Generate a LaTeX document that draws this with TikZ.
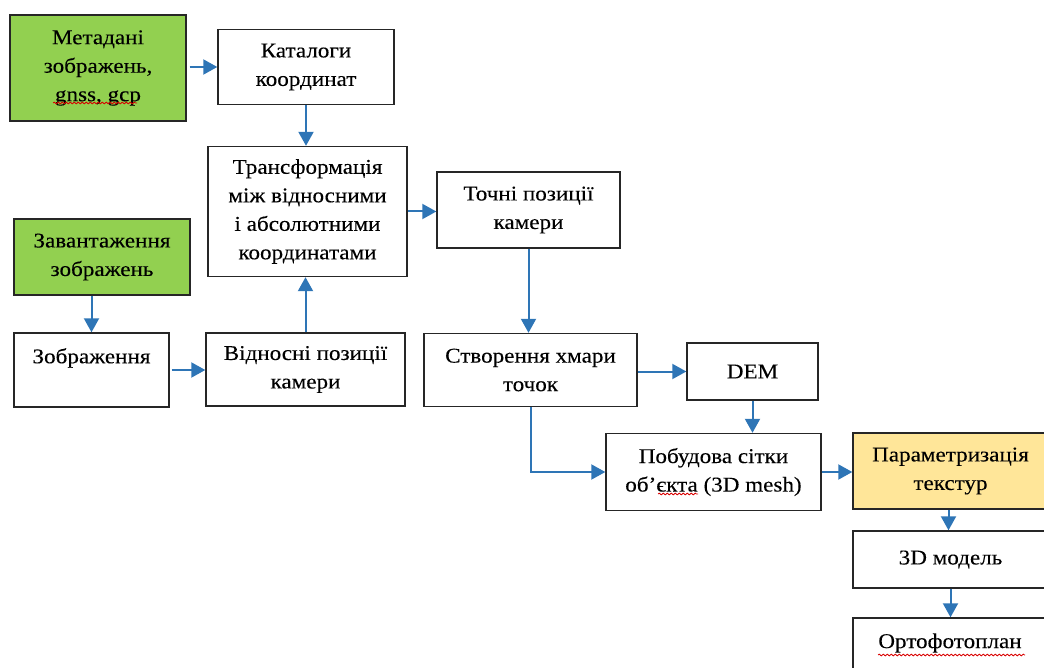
\documentclass[tikz,border=0pt]{standalone}
\usepackage{fontspec}
\setmainfont{Liberation Serif}[FakeStretch=1.1,FakeBold=0.15]
\usetikzlibrary{arrows.meta,decorations.pathmorphing}
\definecolor{arrblue}{RGB}{46,117,182}
\definecolor{boxgreen}{RGB}{146,208,80}
\definecolor{boxyellow}{RGB}{255,230,153}
\begin{document}
\begin{tikzpicture}[x=1pt,y=-1pt,
  box/.style={draw=black!85,line width=1.4pt,rectangle,inner sep=0pt,align=center,
    font=\fontsize{21}{28.5}\selectfont,text=black},
  greenbox/.style={box,fill=boxgreen},
  yellowbox/.style={box,fill=boxyellow},
  plaintext/.style={inner sep=0pt,align=center,font=\fontsize{21}{28.5}\selectfont,text=black},
  arr/.style={draw=arrblue,line width=2pt,-{Triangle[length=14pt,width=15pt]}},
  squiggle/.style={draw=red!85!black,line width=0.8pt,decorate,
    decoration={snake,amplitude=0.9pt,segment length=4pt}}]
\useasboundingbox (0,0) rectangle (1044,668);
\clip (0,0) rectangle (1044,668);

\node[greenbox,minimum width=176pt,minimum height=106pt] (meta) at (98,68) {Метадані\\зображень,\\gnss, gcp};
\node[box,minimum width=176pt,minimum height=75pt] (cat) at (306,67) {Каталоги\\координат};
\node[box,minimum width=199pt,minimum height=130pt] (trans) at (307.5,211.5) {Трансформація\\між відносними\\і абсолютними\\координатами};
\node[greenbox,minimum width=176pt,minimum height=76pt] (load) at (102,257) {Завантаження\\зображень};
\node[box,minimum width=155pt,minimum height=74pt] (img) at (91.5,370) {Зображення\\\mbox{}};
\node[box,minimum width=199pt,minimum height=73pt] (rel) at (305.5,369.5) {Відносні позиції\\камери};
\node[box,minimum width=183pt,minimum height=76pt] (exact) at (528.5,210) {Точні позиції\\камери};
\node[box,minimum width=213pt,minimum height=73pt] (cloud) at (530.5,370) {Створення хмари\\точок};
\node[box,minimum width=131pt,minimum height=57pt] (dem) at (752.5,371.5) {DEM};
\node[box,minimum width=215pt,minimum height=77pt] (mesh) at (713.5,472) {Побудова сітки\\об’єкта (3D mesh)};
\node[yellowbox,minimum width=195pt,minimum height=76pt] (tex) at (950.5,471) {Параметризація\\текстур};
\node[box,minimum width=195pt,minimum height=57pt] (model) at (950.5,559.5) {3D модель};
\node[box,minimum width=195pt,minimum height=82pt] (ortho) at (950.5,659) {};
\node[plaintext] (orthot) at (950,643) {Ортофотоплан};

% spell-check underlines
\draw[squiggle] (53,103) -- (137,103);
\draw[squiggle] (658,494) -- (698,494);
\draw[squiggle] (878,655) -- (1025,655);

% connectors
\draw[arr,shorten <=3pt] (meta.east |- cat.west) -- (cat.west);
\draw[arr] (cat.south) -- (cat.south |- trans.north);
\draw[arr] (trans.east) -- (trans.east -| exact.west);
\draw[arr] (exact.south) -- (exact.south |- cloud.north);
\draw[arr] (img.north |- load.south) -- (img.north);
\draw[arr,shorten <=2pt] (img.east) -- (img.east -| rel.west);
\draw[arr] (rel.north) -- (rel.north |- trans.south);
\draw[arr] (cloud.east |- dem.west) -- (dem.west);
\draw[arr] (dem.south) -- (dem.south |- mesh.north);
\draw[arr] (cloud.south) |- (mesh.west);
\draw[arr] (mesh.east) -- (mesh.east -| tex.west);
\draw[arr] ([xshift=-2pt]tex.south) -- ([xshift=-2pt]tex.south |- model.north);
\draw[arr] (model.south) -- (model.south |- ortho.north);
\end{tikzpicture}
\end{document}
